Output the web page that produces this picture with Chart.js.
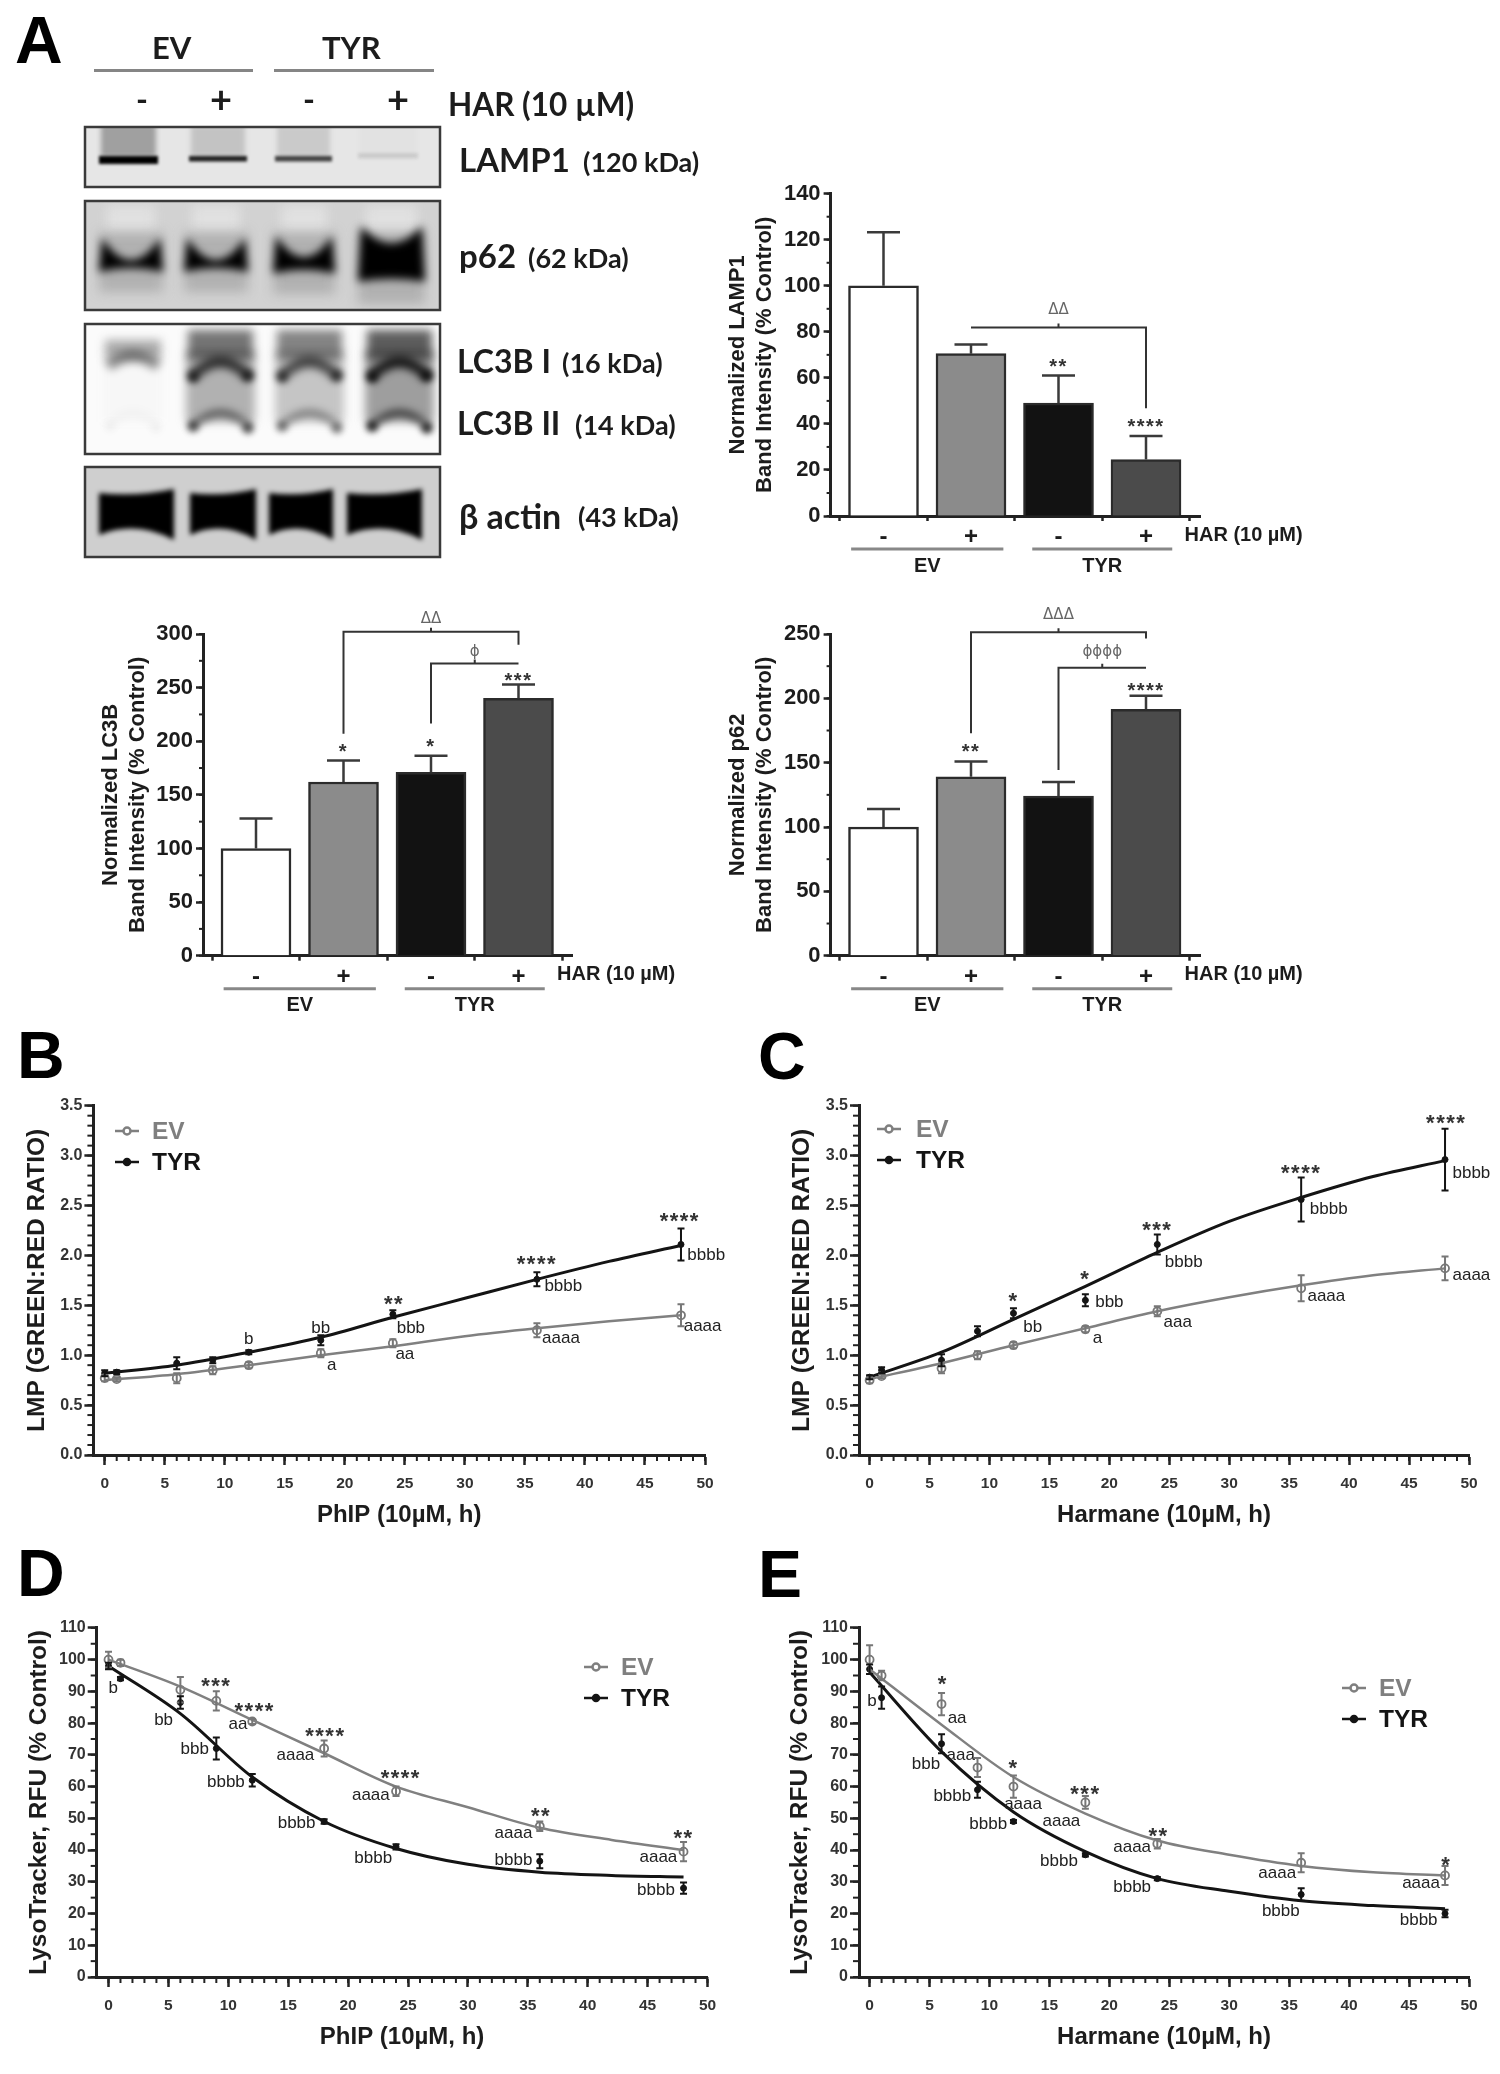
<!DOCTYPE html>
<html>
<head>
<meta charset="utf-8">
<title>LAMP1, p62, LC3B and lysosomal membrane permeability</title>
<script src="https://cdn.jsdelivr.net/npm/chart.js@4"></script>
<style>
    html, body { margin: 0; background: #fff; }
    #page { position: absolute; left: 0; top: 0; width: 1500px; height: 2074px; overflow: hidden; background: #fff; filter: blur(0.6px); }
    canvas { position: absolute; }
    .t { position: absolute; transform: translateY(-50%); white-space: nowrap; color: #1c1c1c; font-family: Lato, sans-serif; font-weight: 700; }
    .letter { font-family: "Liberation Sans", sans-serif; font-size: 66px; color: #000; }
</style>
</head>
<body>
<div id="page"></div>
<script>
const barPositions = [1, 2, 3, 4];
const treatLabels = ['-', '+', '-', '+'];

const lamp1Means = [100, 70.5, 49, 24.5];
const lamp1Errs = [23.3, 4, 12, 10.3];
const lamp1Ticks = [0, 20, 40, 60, 80, 100, 120, 140];
const lamp1Brackets = [[2, 81.9, 4, 46.8, 81.9]];
const lamp1Notes = [[3, 89.6, 'ΔΔ'], [3, 67, '**'], [4, 41, '****']];

const lc3bMeans = [100, 162, 171, 240];
const lc3bErrs = [28, 20, 15.5, 13];
const lc3bTicks = [0, 50, 100, 150, 200, 250, 300];
const lc3bBrackets = [[2, 207, 4, 290, 302], [3, 216.6, 4, 272.6, 272.6]];
const lc3bNotes = [[3, 313.6, 'ΔΔ'], [3.5, 283, 'ϕ'], [2, 195, '*'], [3, 199.6, '*'], [4, 261, '***']];

const p62Means = [100, 139, 124, 191.5];
const p62Errs = [14, 12, 11, 10.5];
const p62Ticks = [0, 50, 100, 150, 200, 250];
const p62Brackets = [[2, 172.8, 4, 246.6, 251.3], [3, 144.3, 4, 223.8, 223.8]];
const p62Notes = [[3, 264.8, 'ΔΔΔ'], [3.5, 236, 'ϕϕϕϕ'], [2, 162, '**'], [4, 209.6, '****']];

const hours = [0, 1, 6, 9, 12, 18, 24, 36, 48];
const fitHours = [0, 6, 12, 18, 24, 30, 36, 42, 48];
const hourTicks = [0, 5, 10, 15, 20, 25, 30, 35, 40, 45, 50];
const lmpTicks = [0, 0.5, 1, 1.5, 2, 2.5, 3, 3.5];
const rfuTicks = [0, 10, 20, 30, 40, 50, 60, 70, 80, 90, 100, 110];

const phipEvMean = [0.77, 0.76, 0.77, 0.85, 0.9, 1.02, 1.12, 1.25, 1.4];
const phipEvErr = [0.03, 0.02, 0.05, 0.04, 0.03, 0.04, 0.04, 0.07, 0.11];
const phipEvFit = [0.75, 0.81, 0.9, 1.0, 1.09, 1.19, 1.27, 1.34, 1.4];
const phipTyrMean = [0.82, 0.83, 0.92, 0.95, 1.03, 1.15, 1.41, 1.76, 2.11];
const phipTyrErr = [0.03, 0.02, 0.06, 0.03, 0.02, 0.05, 0.04, 0.07, 0.16];
const phipTyrFit = [0.82, 0.9, 1.03, 1.18, 1.38, 1.57, 1.76, 1.94, 2.1];
const phipLmpNotes = [
    [47.9, 2.395, '****'], [50.1, 2.0, 'bbbb'], [49.8, 1.286, 'aaaa'], [36, 1.97, '****'],
    [38.2, 1.69, 'bbbb'], [38, 1.17, 'aaaa'], [24.1, 1.57, '**'], [25.5, 1.27, 'bbb'],
    [25, 1.01, 'aa'], [18, 1.27, 'bb'], [18.9, 0.9, 'a'], [12, 1.16, 'b']
];

const harEvMean = [0.75, 0.79, 0.87, 1.0, 1.1, 1.26, 1.44, 1.67, 1.87];
const harEvErr = [0.03, 0.02, 0.05, 0.04, 0.03, 0.03, 0.05, 0.13, 0.12];
const harEvFit = [0.76, 0.92, 1.1, 1.27, 1.44, 1.58, 1.7, 1.8, 1.87];
const harTyrMean = [0.78, 0.85, 0.95, 1.24, 1.42, 1.55, 2.11, 2.56, 2.96];
const harTyrErr = [0.02, 0.03, 0.06, 0.05, 0.05, 0.06, 0.1, 0.22, 0.31];
const harTyrFit = [0.78, 1.03, 1.36, 1.69, 2.03, 2.34, 2.58, 2.79, 2.95];
const harLmpNotes = [
    [48.1, 3.38, '****'], [50.2, 2.82, 'bbbb'], [50.2, 1.8, 'aaaa'], [36, 2.88, '****'],
    [38.3, 2.46, 'bbbb'], [38.1, 1.59, 'aaaa'], [24, 2.31, '***'], [26.2, 1.93, 'bbbb'],
    [25.7, 1.33, 'aaa'], [18, 1.82, '*'], [20, 1.53, 'bbb'], [19, 1.17, 'a'],
    [12, 1.6, '*'], [13.6, 1.28, 'bb']
];

const phipRfuEvMean = [100, 99, 90.5, 87, 80.5, 72, 58.5, 47.5, 39.5];
const phipRfuEvErr = [2.5, 1, 4, 3, 0.8, 2.5, 1.5, 1.5, 3];
const phipRfuEvFit = [100, 91.5, 81, 70.5, 60, 53.5, 47, 43.2, 40];
const phipRfuTyrMean = [98, 94, 86.5, 72, 62, 49, 41, 36.5, 28];
const phipRfuTyrErr = [1, 0.5, 2, 3.5, 2, 0.7, 0.8, 2.2, 1.8];
const phipRfuTyrFit = [98, 83, 63, 49, 40.5, 35.5, 33, 32, 31.5];
const phipRfuNotes = [
    [0.4, 91, 'b'], [9, 93.2, '***'], [4.6, 80.8, 'bb'], [12.2, 85.4, '****'], [10.8, 79.7, 'aa'],
    [7.2, 71.7, 'bbb'], [18.1, 77.6, '****'], [15.6, 69.8, 'aaaa'], [9.8, 61.5, 'bbbb'],
    [24.4, 64.4, '****'], [21.9, 57.4, 'aaaa'], [15.7, 48.4, 'bbbb'], [22.1, 37.3, 'bbbb'],
    [36.1, 52.4, '**'], [33.8, 45.4, 'aaaa'], [33.8, 36.8, 'bbbb'], [48, 45.6, '**'],
    [45.9, 37.6, 'aaaa'], [45.7, 27.2, 'bbbb']
];

const harRfuEvMean = [100, 95, 86, 66, 60, 55, 42, 36, 32];
const harRfuEvErr = [4.5, 1.5, 3.5, 3, 3.5, 2, 1.5, 3, 3];
const harRfuEvFit = [97, 79.5, 63, 51.5, 43, 38.5, 35, 33, 32];
const harRfuTyrMean = [97, 88, 73.5, 59, 49, 38.5, 31, 26, 20];
const harRfuTyrErr = [1.5, 3.5, 3, 2.5, 0.5, 0.5, 0.5, 2, 1.2];
const harRfuTyrFit = [96, 71, 52, 39.5, 31, 27, 24, 22.5, 21.5];
const harRfuNotes = [
    [0.2, 86.9, 'b'], [6.1, 94, '*'], [7.3, 81.6, 'aa'], [7.6, 69.8, 'aaa'], [4.7, 67, 'bbb'],
    [12, 67.4, '*'], [6.9, 57, 'bbbb'], [12.8, 54.5, 'aaaa'], [18, 59.3, '***'], [16, 49.2, 'aaaa'],
    [9.9, 48.1, 'bbbb'], [15.8, 36.3, 'bbbb'], [24.1, 46.1, '**'], [21.9, 40.8, 'aaaa'],
    [21.9, 28.4, 'bbbb'], [34, 32.7, 'aaaa'], [34.3, 20.7, 'bbbb'], [48.1, 37, '*'],
    [46, 29.5, 'aaaa'], [45.8, 17.8, 'bbbb']
];

// relative darkness of the four lanes on each blot
const lamp1Lanes = [1, 0.85, 0.7, 0.1];
const lc3bUpperLanes = [0.5, 0.85, 0.75, 1];
const lc3bLowerLanes = [0.04, 0.75, 0.55, 0.95];

const AXIS = '#222';
const SANS = '"Liberation Sans", Arial, sans-serif';
const page = document.getElementById('page');

function label(text, left, y, size, cls) {
    const el = document.createElement('div');
    el.className = 't ' + (cls || '');
    el.textContent = text;
    el.style.left = left + 'px';
    el.style.top = y + 'px';
    if (size) el.style.fontSize = size + 'px';
    page.appendChild(el);
}

function newCanvas(f) {
    const c = document.createElement('canvas');
    c.width = f.right - f.left;
    c.height = f.bottom - f.top;
    c.style.left = f.left + 'px';
    c.style.top = f.top + 'px';
    page.appendChild(c);
    return c;
}

// error bars, minor ticks, brackets, notes and legend all go through the chart scales
const extras = {
    id: 'extras',
    afterDatasetsDraw(chart, args, opts) {
        const ctx = chart.ctx, x = chart.scales.x, y = chart.scales.y;
        const area = chart.chartArea;
        ctx.save();
        ctx.lineCap = 'butt';

        ctx.strokeStyle = AXIS;
        ctx.lineWidth = opts.minorWidth;
        for (let k = 0; k * opts.yMinor <= y.max + 1e-9; k++) {
            const py = y.getPixelForValue(k * opts.yMinor);
            ctx.beginPath(); ctx.moveTo(area.left, py); ctx.lineTo(area.left - opts.minorLen, py); ctx.stroke();
        }
        if (opts.xMinor) {
            for (let k = 0; k * opts.xMinor <= x.max + 1e-9; k++) {
                const px = x.getPixelForValue(k * opts.xMinor);
                ctx.beginPath(); ctx.moveTo(px, area.bottom); ctx.lineTo(px, area.bottom + opts.minorLen); ctx.stroke();
            }
        }

        chart.data.datasets.forEach(function (ds) {
            if (!ds.err) return;
            ctx.strokeStyle = ds.errColor;
            ctx.lineWidth = opts.errWidth;
            ds.data.forEach(function (pt, i) {
                const px = x.getPixelForValue(pt.x);
                const hi = y.getPixelForValue(pt.y + ds.err[i]);
                const lo = y.getPixelForValue(ds.upperOnly ? pt.y : pt.y - ds.err[i]);
                ctx.beginPath();
                ctx.moveTo(px, lo); ctx.lineTo(px, hi);
                ctx.moveTo(px - opts.cap, hi); ctx.lineTo(px + opts.cap, hi);
                if (!ds.upperOnly) { ctx.moveTo(px - opts.cap, lo); ctx.lineTo(px + opts.cap, lo); }
                ctx.stroke();
            });
        });

        ctx.strokeStyle = '#333';
        ctx.lineWidth = 2;
        (opts.brackets || []).forEach(function (b) {
            const x1 = x.getPixelForValue(b[0]), x2 = x.getPixelForValue(b[2]), top = y.getPixelForValue(b[4]);
            ctx.beginPath();
            ctx.moveTo(x1, y.getPixelForValue(b[1])); ctx.lineTo(x1, top);
            ctx.lineTo(x2, top); ctx.lineTo(x2, y.getPixelForValue(b[3]));
            ctx.moveTo((x1 + x2) / 2, top); ctx.lineTo((x1 + x2) / 2, top - 4);
            ctx.stroke();
        });

        ctx.textAlign = 'center';
        ctx.textBaseline = 'middle';
        (opts.notes || []).forEach(function (n) {
            let shift = 0;
            ctx.letterSpacing = '0px';
            if (n[2][0] === '*') {
                ctx.font = 'bold ' + opts.starSize + 'px ' + SANS;
                ctx.letterSpacing = '1.5px';
                ctx.fillStyle = '#333';
                shift = opts.starSize * 0.28;
            } else if (/[Δϕ]/.test(n[2])) {
                ctx.font = '15px "DejaVu Sans", sans-serif';
                ctx.fillStyle = '#666';
            } else {
                ctx.font = opts.noteSize + 'px ' + SANS;
                ctx.fillStyle = '#222';
            }
            ctx.fillText(n[2], x.getPixelForValue(n[0]), y.getPixelForValue(n[1]) + shift);
        });
        ctx.letterSpacing = '0px';

        if (opts.groups) {
            const base = area.bottom;
            ctx.fillStyle = '#1c1c1c';
            ctx.strokeStyle = '#888';
            ctx.lineWidth = 3;
            opts.groups.forEach(function (g) {
                ctx.beginPath();
                ctx.moveTo(x.getPixelForValue(g.from), base + 33); ctx.lineTo(x.getPixelForValue(g.to), base + 33);
                ctx.stroke();
                ctx.font = 'bold 20px ' + SANS;
                ctx.textAlign = 'center';
                ctx.fillText(g.text, x.getPixelForValue((g.from + g.to) / 2), base + 50);
            });
            ctx.textAlign = 'left';
            ctx.font = 'bold 20px ' + SANS;
            ctx.fillText('HAR (10 µM)', x.getPixelForValue(4.44), base + 19);
        }

        if (opts.legend) {
            const f = opts.frame;
            opts.legend.forEach(function (l) {
                const py = l.y - f.top, x0 = l.x - f.left;
                ctx.strokeStyle = l.color;
                ctx.lineWidth = 2.5;
                ctx.beginPath(); ctx.moveTo(x0, py); ctx.lineTo(x0 + 24, py); ctx.stroke();
                ctx.beginPath(); ctx.arc(x0 + 12, py, l.open ? 3.5 : 3, 0, Math.PI * 2);
                ctx.fillStyle = l.open ? '#fff' : l.color;
                ctx.fill(); ctx.stroke();
                ctx.fillStyle = l.color;
                ctx.font = 'bold 24.5px ' + SANS;
                ctx.textAlign = 'left';
                ctx.fillText(l.text, l.tx - f.left, py + 1);
            });
        }
        ctx.restore();
    }
};

function axisBase(f, horizontal) {
    return {
        border: { display: true, color: AXIS, width: 3 },
        grid: { drawOnChartArea: false, tickColor: AXIS, tickWidth: 2.5, tickLength: horizontal ? f.xTick : f.yTick },
        afterFit(axis) {
            if (horizontal) axis.height = f.bottom - f.y1;
            else axis.width = f.x0 - f.left;
        }
    };
}

function padding(f) {
    return { top: f.y0 - f.top, right: f.right - f.x1, left: 0, bottom: 0 };
}

function barChart(f, means, errs, yTicks, yMinor, yTitle, brackets, notes) {
    const xUnit = 87.5;
    const xMin = 1 - (f.first - f.x0) / xUnit;
    new Chart(newCanvas(f), {
        type: 'bar',
        data: {
            datasets: [{
                data: barPositions.map((p, i) => ({ x: p, y: means[i] })),
                err: errs,
                upperOnly: true,
                errColor: '#3a3a3a',
                backgroundColor: ['#ffffff', '#8b8b8b', '#121212', '#4b4b4b'],
                borderColor: '#2b2b2b',
                borderWidth: 2.5,
                barThickness: 70
            }]
        },
        options: {
            responsive: false,
            animation: false,
            layout: { padding: padding(f) },
            plugins: {
                legend: { display: false },
                tooltip: { enabled: false },
                extras: {
                    yMinor: yMinor, xMinor: 0, minorLen: 4, minorWidth: 2, errWidth: 2.5, cap: 16.5,
                    brackets: brackets, notes: notes, starSize: 20, noteSize: 16,
                    groups: [{ from: 0.63, to: 2.37, text: 'EV' }, { from: 2.7, to: 4.3, text: 'TYR' }]
                }
            },
            scales: {
                x: Object.assign(axisBase(f, true), {
                    type: 'linear',
                    offset: false,
                    min: xMin,
                    max: xMin + (f.x1 - f.x0) / xUnit,
                    afterBuildTicks(axis) { axis.ticks = barPositions.map(v => ({ value: v })); },
                    ticks: {
                        autoSkip: false, maxRotation: 0, padding: 2, color: '#1c1c1c',
                        font: { family: SANS, weight: 'bold', size: 24 },
                        callback: v => treatLabels[v - 1]
                    }
                }),
                y: Object.assign(axisBase(f, false), {
                    min: 0,
                    max: yTicks[yTicks.length - 1],
                    afterBuildTicks(axis) { axis.ticks = yTicks.map(v => ({ value: v })); },
                    ticks: {
                        padding: 3, color: '#1c1c1c',
                        font: { family: SANS, weight: 'bold', size: 22 }
                    },
                    title: {
                        display: true, text: yTitle, color: '#1c1c1c', padding: 0,
                        font: { family: SANS, weight: 'bold', size: 22, lineHeight: 1.25 }
                    }
                })
            }
        },
        plugins: [extras]
    });
}

function lineChart(f, s) {
    const xUnit = (f.x50 - f.x00) / 50;
    const pts = (xs, ys) => xs.map((x, i) => ({ x: x, y: ys[i] }));
    const fit = (ys, color, width) => ({
        data: pts(fitHours, ys), borderColor: color, borderWidth: width,
        pointRadius: 0, cubicInterpolationMode: 'monotone', fill: false
    });
    const marks = (ys, errs, color, open) => ({
        data: pts(hours, ys), err: errs, errColor: color, showLine: false,
        pointRadius: open ? 4 : 3, borderColor: color, pointBorderWidth: open ? 1.8 : 1,
        pointBackgroundColor: open ? 'rgba(255,255,255,0.85)' : color
    });
    new Chart(newCanvas(f), {
        type: 'line',
        data: {
            datasets: [
                fit(s.evFit, '#808080', 2.5),
                fit(s.tyrFit, '#141414', 3),
                marks(s.evMean, s.evErr, '#777', true),
                marks(s.tyrMean, s.tyrErr, '#141414', false)
            ]
        },
        options: {
            responsive: false,
            animation: false,
            layout: { padding: padding(f) },
            plugins: {
                legend: { display: false },
                tooltip: { enabled: false },
                extras: {
                    yMinor: s.yMinor, xMinor: 1, minorLen: 6, minorWidth: 2, errWidth: 2, cap: 3.5,
                    notes: s.notes, starSize: 22, noteSize: 17, legend: s.legend, frame: f
                }
            },
            scales: {
                x: Object.assign(axisBase(f, true), {
                    type: 'linear',
                    min: (f.x0 - f.x00) / xUnit,
                    max: 50,
                    afterBuildTicks(axis) { axis.ticks = hourTicks.map(v => ({ value: v })); },
                    ticks: {
                        autoSkip: false, maxRotation: 0, padding: f.labelGap, color: '#333',
                        font: { family: SANS, weight: 'bold', size: 15.5 }
                    },
                    title: {
                        display: true, text: s.xTitle, color: '#1c1c1c', padding: 0,
                        font: { family: SANS, weight: 'bold', size: 24 }
                    }
                }),
                y: Object.assign(axisBase(f, false), {
                    min: 0,
                    max: s.yTicks[s.yTicks.length - 1],
                    afterBuildTicks(axis) { axis.ticks = s.yTicks.map(v => ({ value: v })); },
                    ticks: {
                        padding: 2, color: '#333',
                        font: { family: SANS, weight: 'bold', size: 16 },
                        callback: v => s.digits ? v.toFixed(s.digits) : v
                    },
                    title: {
                        display: true, text: s.yTitle, color: '#1c1c1c', padding: 0,
                        font: { family: SANS, weight: 'bold', size: 24.5 }
                    }
                })
            }
        },
        plugins: [extras]
    });
}

function legendFor(x, tx, y1, y2) {
    return [
        { x: x, tx: tx, y: y1, text: 'EV', color: '#7f7f7f', open: true },
        { x: x, tx: tx, y: y2, text: 'TYR', color: '#141414', open: false }
    ];
}

function drawBlots() {
    const f = { left: 0, top: 0, right: 460, bottom: 570 };
    const ctx = newCanvas(f).getContext('2d');
    const soft = (px, paint) => { ctx.save(); ctx.filter = 'blur(' + px + 'px)'; paint(); ctx.restore(); };

    // group rules above the blots
    ctx.fillStyle = '#858585';
    ctx.fillRect(94, 69, 159, 3);
    ctx.fillRect(274, 69, 160, 3);

    const box = (y0, y1, bg, paint) => {
        ctx.save();
        ctx.beginPath(); ctx.rect(85, y0, 355, y1 - y0); ctx.clip();
        ctx.fillStyle = bg; ctx.fillRect(85, y0, 355, y1 - y0);
        paint();
        ctx.restore();
        ctx.strokeStyle = '#3a3a3a'; ctx.lineWidth = 2.5;
        ctx.strokeRect(85, y0, 355, y1 - y0);
    };

    // LAMP1
    box(127, 187, '#e6e6e6', function () {
        [[99, 158], [189, 247], [275, 332], [358, 418]].forEach(function (l, i) {
            const a = lamp1Lanes[i];
            soft(2.5, function () {
                ctx.fillStyle = 'rgba(130,130,130,' + (i === 0 ? 0.7 : 0.4 * a) + ')';
                ctx.fillRect(l[0] + 2, 125, l[1] - l[0] - 4, 32);
            });
            soft(1.6, function () {
                ctx.fillStyle = 'rgba(0,0,0,' + a + ')';
                ctx.fillRect(l[0], i === 3 ? 153 : 156, l[1] - l[0], i === 0 ? 8 : 5.5);
            });
        });
    });

    // p62
    box(201, 310, '#d2d2d2', function () {
        [[99, 163, 0], [184, 248, 0], [273, 335, 2], [358, 425, 12]].forEach(function (l) {
            const m = (l[0] + l[1]) / 2;
            soft(6, function () {
                ctx.fillStyle = 'rgba(235,235,235,0.6)';
                ctx.fillRect(l[0] + 8, 205, l[1] - l[0] - 16, 28);
                ctx.fillStyle = 'rgba(150,150,150,0.55)';
                ctx.fillRect(l[0], 232, l[1] - l[0], 60 + l[2]);
            });
            soft(4, function () {
                ctx.fillStyle = '#000';
                ctx.beginPath();
                ctx.moveTo(l[0] + 3, 238 - l[2]);
                ctx.quadraticCurveTo(m, 282 - l[2] * 1.8, l[1] - 3, 238 - l[2]);
                ctx.lineTo(l[1], 272 + l[2] * 0.8);
                ctx.quadraticCurveTo(m, 264 + l[2], l[0], 272 + l[2] * 0.8);
                ctx.closePath();
                ctx.fill();
            });
        });
    });

    // LC3B
    box(324, 454, '#fbfbfb', function () {
        [[103, 163], [186, 255], [275, 344], [365, 434]].forEach(function (l, i) {
            const up = lc3bUpperLanes[i], low = lc3bLowerLanes[i];
            const m = (l[0] + l[1]) / 2;
            soft(5, function () {
                ctx.fillStyle = 'rgba(120,120,120,' + (0.75 * low) + ')';
                ctx.fillRect(l[0], 350, l[1] - l[0], 72);
                ctx.fillStyle = 'rgba(40,40,40,' + (0.75 * up) + ')';
                ctx.fillRect(l[0] + 2, i === 0 ? 340 : 330, l[1] - l[0] - 4, i === 0 ? 18 : 30);
            });
            soft(4, function () {
                ctx.strokeStyle = 'rgba(0,0,0,' + (0.85 * up) + ')';
                ctx.lineWidth = 11;
                ctx.beginPath();
                ctx.moveTo(l[0] + 5, i === 0 ? 366 : 378);
                ctx.quadraticCurveTo(m, 346, l[1] - 5, i === 0 ? 366 : 378);
                ctx.stroke();
                ctx.strokeStyle = 'rgba(0,0,0,' + (0.8 * low) + ')';
                ctx.lineWidth = 6;
                ctx.beginPath();
                ctx.moveTo(l[0] + 5, 428);
                ctx.quadraticCurveTo(m, 398, l[1] - 5, 428);
                ctx.stroke();
            });
            soft(3, function () {
                [[l[0] + 7, 426, low], [l[1] - 7, 428, low], [l[0] + 7, 377, i === 0 ? 0 : up], [l[1] - 7, 376, i === 0 ? 0 : up]].forEach(function (d) {
                    ctx.fillStyle = 'rgba(0,0,0,' + (0.8 * d[2]) + ')';
                    ctx.beginPath(); ctx.arc(d[0], d[1], 5.5, 0, Math.PI * 2); ctx.fill();
                });
            });
        });
    });

    // beta actin
    box(467, 557, '#cfcfcf', function () {
        [[99, 174], [190, 256], [269, 333], [347, 422]].forEach(function (l) {
            soft(2.5, function () {
                const m = (l[0] + l[1]) / 2;
                ctx.fillStyle = '#000';
                ctx.beginPath();
                ctx.moveTo(l[0], 493);
                ctx.quadraticCurveTo(m, 497, l[1], 489);
                ctx.lineTo(l[1], 540);
                ctx.quadraticCurveTo(m, 520, l[0], 535);
                ctx.closePath();
                ctx.fill();
            });
        });
    });

    label('EV', 152, 47, 31);
    label('TYR', 322, 47, 31);
    label('-', 136, 98, 32);
    label('+', 210, 98, 38);
    label('-', 303, 98, 32);
    label('+', 387, 98, 38);
    label('HAR (10 µM)', 448, 104, 31.5);
    label('LAMP1', 459, 159, 33);
    label('(120 kDa)', 583, 161, 27);
    label('p62', 459, 255, 33);
    label('(62 kDa)', 528, 257, 27);
    label('LC3B I', 457, 360, 32);
    label('(16 kDa)', 562, 362, 27);
    label('LC3B II', 457, 422, 32);
    label('(14 kDa)', 575, 424, 27);
    label('β actin', 459, 515, 34);
    label('(43 kDa)', 578, 516, 27);
}

drawBlots();

label('A', 15, 40, 0, 'letter');
label('B', 17, 1055, 0, 'letter');
label('C', 758, 1056, 0, 'letter');
label('D', 17, 1573, 0, 'letter');
label('E', 758, 1574, 0, 'letter');

barChart(
    { left: 724, top: 170, right: 1320, bottom: 590, x0: 830.6, x1: 1200, y0: 193.7, y1: 516, first: 883.5, xTick: 5, yTick: 7 },
    lamp1Means, lamp1Errs, lamp1Ticks, 10, ['Normalized LAMP1', 'Band Intensity (% Control)'], lamp1Brackets, lamp1Notes
);
barChart(
    { left: 97, top: 600, right: 700, bottom: 1030, x0: 203, x1: 572.4, y0: 634, y1: 955.7, first: 256, xTick: 5, yTick: 7 },
    lc3bMeans, lc3bErrs, lc3bTicks, 25, ['Normalized LC3B', 'Band Intensity (% Control)'], lc3bBrackets, lc3bNotes
);
barChart(
    { left: 724, top: 600, right: 1320, bottom: 1030, x0: 830.6, x1: 1200, y0: 634, y1: 955.7, first: 883.5, xTick: 5, yTick: 7 },
    p62Means, p62Errs, p62Ticks, 25, ['Normalized p62', 'Band Intensity (% Control)'], p62Brackets, p62Notes
);

lineChart(
    { left: 23, top: 1090, right: 735, bottom: 1530, x0: 93.4, x1: 705, y0: 1105.7, y1: 1455, x00: 104.7, x50: 705, xTick: 10, yTick: 9, labelGap: 9 },
    {
        evMean: phipEvMean, evErr: phipEvErr, evFit: phipEvFit, tyrMean: phipTyrMean, tyrErr: phipTyrErr, tyrFit: phipTyrFit,
        yTicks: lmpTicks, yMinor: 0.1, digits: 1, notes: phipLmpNotes,
        xTitle: 'PhIP (10µM, h)', yTitle: 'LMP (GREEN:RED RATIO)', legend: legendFor(115, 152, 1131, 1162)
    }
);
lineChart(
    { left: 788, top: 1090, right: 1498, bottom: 1530, x0: 859, x1: 1469, y0: 1105.7, y1: 1455, x00: 869.6, x50: 1469, xTick: 10, yTick: 9, labelGap: 9 },
    {
        evMean: harEvMean, evErr: harEvErr, evFit: harEvFit, tyrMean: harTyrMean, tyrErr: harTyrErr, tyrFit: harTyrFit,
        yTicks: lmpTicks, yMinor: 0.1, digits: 1, notes: harLmpNotes,
        xTitle: 'Harmane (10µM, h)', yTitle: 'LMP (GREEN:RED RATIO)', legend: legendFor(877, 916, 1129, 1160)
    }
);
lineChart(
    { left: 25, top: 1610, right: 735, bottom: 2052, x0: 96.7, x1: 707.5, y0: 1627.9, y1: 1977, x00: 108.5, x50: 707.5, xTick: 10, yTick: 9, labelGap: 9 },
    {
        evMean: phipRfuEvMean, evErr: phipRfuEvErr, evFit: phipRfuEvFit, tyrMean: phipRfuTyrMean, tyrErr: phipRfuTyrErr, tyrFit: phipRfuTyrFit,
        yTicks: rfuTicks, yMinor: 5, digits: 0, notes: phipRfuNotes,
        xTitle: 'PhIP (10µM, h)', yTitle: 'LysoTracker, RFU (% Control)', legend: legendFor(584, 621, 1667, 1698)
    }
);
lineChart(
    { left: 786, top: 1610, right: 1498, bottom: 2052, x0: 859, x1: 1469, y0: 1627.9, y1: 1977, x00: 869.6, x50: 1469, xTick: 10, yTick: 9, labelGap: 9 },
    {
        evMean: harRfuEvMean, evErr: harRfuEvErr, evFit: harRfuEvFit, tyrMean: harRfuTyrMean, tyrErr: harRfuTyrErr, tyrFit: harRfuTyrFit,
        yTicks: rfuTicks, yMinor: 5, digits: 0, notes: harRfuNotes,
        xTitle: 'Harmane (10µM, h)', yTitle: 'LysoTracker, RFU (% Control)', legend: legendFor(1342, 1379, 1688, 1719)
    }
);
</script>
</body>
</html>
